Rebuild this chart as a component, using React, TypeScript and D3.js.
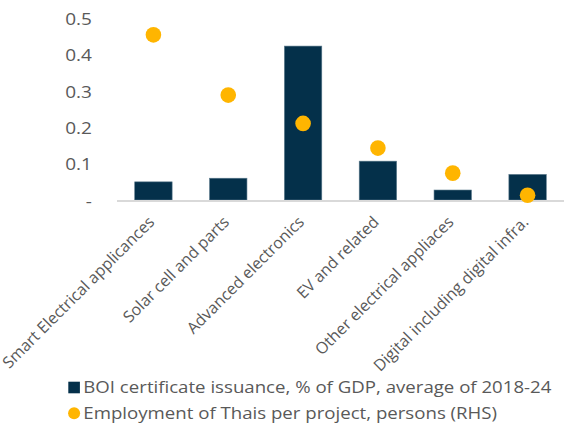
import React from "react";
import * as d3 from "d3";

const categories = [
  "Smart Electrical applicances",
  "Solar cell and parts",
  "Advanced electronics",
  "EV and related",
  "Other electrical appliaces",
  "Digital including digital infra.",
];
const boiValues = [0.05, 0.06, 0.424, 0.107, 0.0275, 0.0705];
const employmentValues = [455, 289, 211, 143, 74, 13];
const leftTicks = [0, 0.1, 0.2, 0.3, 0.4, 0.5];
const legendLabels = [
  "BOI certificate issuance, % of GDP, average of 2018-24",
  "Employment of Thais per project, persons (RHS)",
];

const W = 564;
const H = 425;
const BAR = "#04304a";
const DOT = "#ffb500";
const TEXT = "#595959";
const FONT = "'Open Sans', sans-serif";

export default function App() {
  const x = d3
    .scaleBand<string>()
    .domain(categories)
    .range([116, 565])
    .paddingInner(0.5)
    .paddingOuter(0.25);
  const y = d3.scaleLinear().domain([0, 0.5]).range([200, 18.5]);
  const yR = d3.scaleLinear().domain([0, 500]).range([200, 18.5]);

  return (
    <svg
      width={W}
      height={H}
      style={{ position: "absolute", left: 0, top: 0 }}
      fontFamily={FONT}
    >
      {leftTicks.map((t) => (
        <text
          key={t}
          transform={`translate(92,${y(t)}) scale(1.12,1)`}
          textAnchor="end"
          dominantBaseline="central"
          fontSize={17}
          fill={TEXT}
        >
          {t === 0 ? "-" : d3.format(".1f")(t)}
        </text>
      ))}
      {categories.map((c, i) => (
        <rect
          key={c}
          x={x(c)}
          y={y(boiValues[i])}
          width={x.bandwidth()}
          height={y(0) - y(boiValues[i])}
          fill={BAR}
          stroke="#5b7a8c"
          strokeWidth={0.6}
        />
      ))}
      <line x1={117} x2={564} y1={y(0) + 1} y2={y(0) + 1} stroke="#d9d9d9" strokeWidth={2} />
      {categories.map((c, i) => (
        <circle
          key={c}
          cx={(x(c) as number) + x.bandwidth() / 2}
          cy={yR(employmentValues[i])}
          r={7.8}
          fill={DOT}
        />
      ))}
      {categories.map((c) => (
        <text
          key={c}
          transform={`translate(${(x(c) as number) + x.bandwidth() / 2 + 2},223) rotate(-45)`}
          textAnchor="end"
          fontSize={16}
          fill={TEXT}
        >
          {c}
        </text>
      ))}
      <rect x={68.3} y={381.7} width={11.6} height={11.6} fill={BAR} />
      <text transform="translate(83.3,393.3) scale(1.13,1)" fontSize={16.5} fill={TEXT}>
        {legendLabels[0]}
      </text>
      <circle cx={74.1} cy={413.3} r={6} fill={DOT} />
      <text transform="translate(83.3,419) scale(1.13,1)" fontSize={16.5} fill={TEXT}>
        {legendLabels[1]}
      </text>
    </svg>
  );
}
